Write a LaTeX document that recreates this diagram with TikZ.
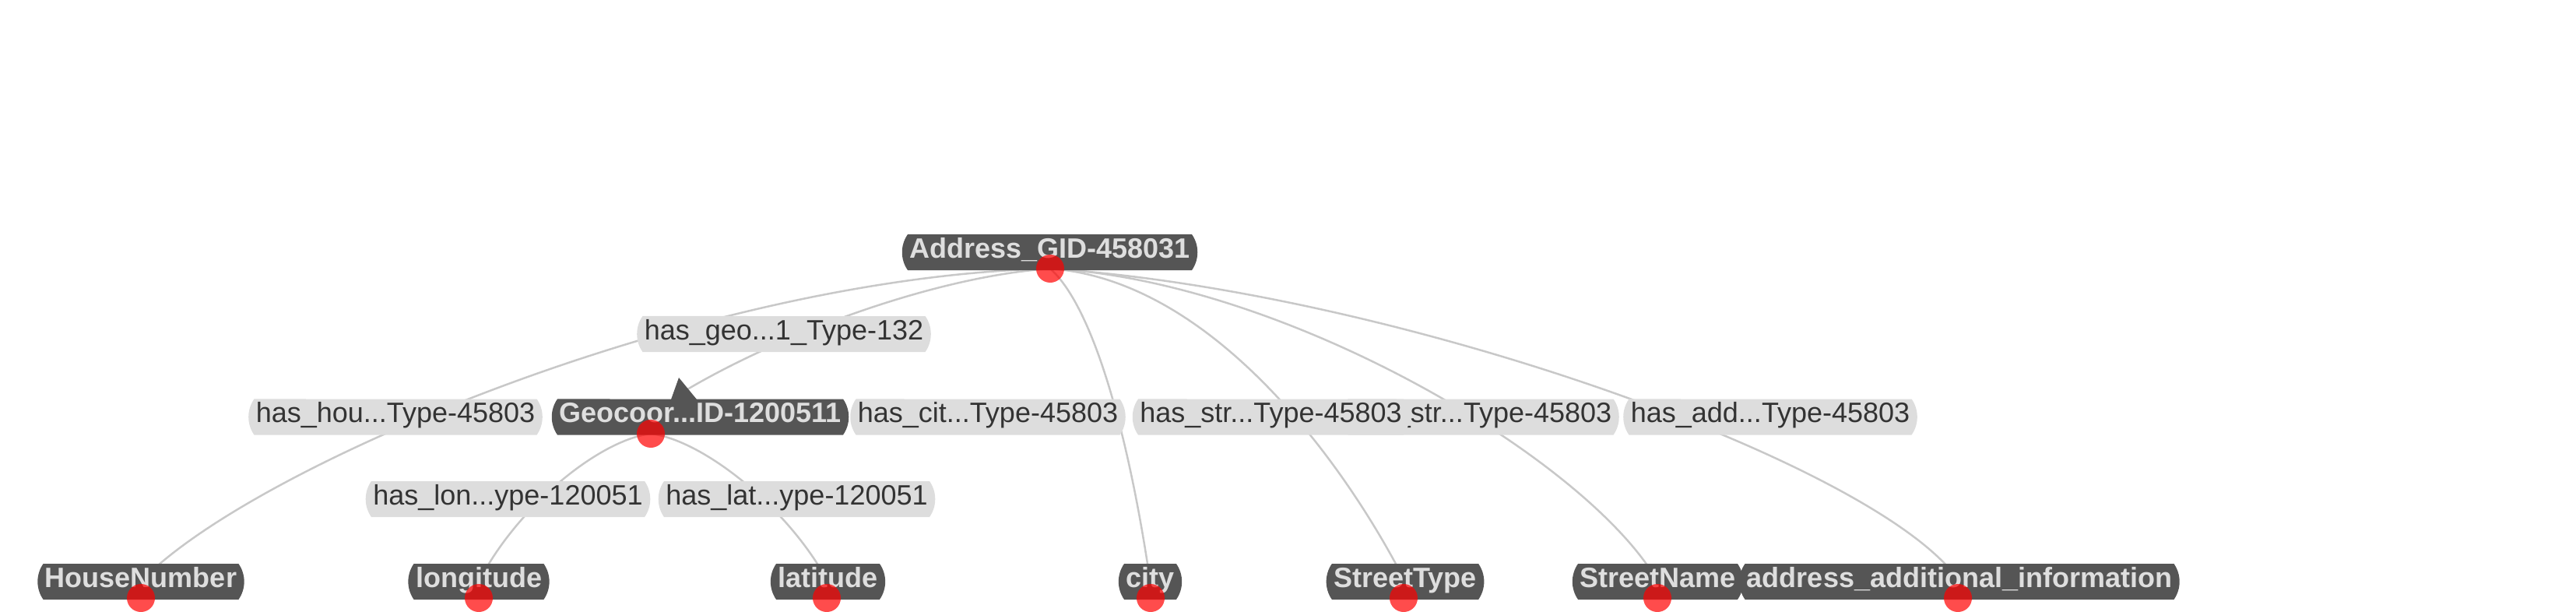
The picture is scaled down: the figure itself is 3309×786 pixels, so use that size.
\documentclass[tikz,border=0pt]{standalone}
\usepackage{fontspec}
\setmainfont{Liberation Sans}
\usetikzlibrary{shapes.misc}
\definecolor{nodebg}{HTML}{555555}
\definecolor{nodefg}{HTML}{DEDEDE}
\definecolor{lblbg}{HTML}{DDDDDD}
\definecolor{lblfg}{HTML}{333333}
\definecolor{edgec}{HTML}{C8C8C8}
\pgfdeclarelayer{background}
\pgfsetlayers{background,main}
\tikzset{
  boxbase/.style={rounded rectangle, rounded rectangle arc length=70,
    minimum height=23pt, inner xsep=4.5pt, inner ysep=0pt,
    text height=0.72em, text depth=0pt},
  ent/.style={boxbase, fill=nodebg, text=nodefg,
    font=\fontsize{18}{20}\selectfont\bfseries},
  rel/.style={boxbase, fill=lblbg, text=lblfg,
    font=\fontsize{18}{20}\selectfont},
  link/.style={draw=edgec, line width=1.25pt},
  reddot/.style={circle, fill=red, fill opacity=0.7, draw=none,
    minimum size=18pt, inner sep=0pt},
}
\begin{document}
\begin{tikzpicture}[x=0.5pt, y=-0.5pt]
\useasboundingbox (0,0) rectangle (3309,786);

% entity boxes
\node[ent] (addr) at (1348.5,324) {Address\_GID-458031};
\fill[nodebg] (872,485) -- (862,513) -- (895,513) -- cycle;
\node[ent] (geo)  at (899.5,535.5) {Geocoor...ID-1200511};
\node[ent] (hn)   at (181,747) {HouseNumber};
\node[ent] (lon)  at (615,747) {longitude};
\node[ent] (lat)  at (1063.5,747) {latitude};
\node[ent] (city) at (1477.5,747) {city};
\node[ent] (st)   at (1805,747) {StreetType};
\node[ent] (sn)   at (2129.5,747) {StreetName};
\node[ent] (aai)  at (2517,747) {address\_additional\_information};

% edge labels
\node[rel] (lgeo) at (1007,429) {has\_geo...1\_Type-132};
\node[rel] (lhou) at (508,535.5) {has\_hou...Type-45803};
\node[rel] (lcit) at (1269,535.5) {has\_cit...Type-45803};
\node[rel] (lstrb) at (1902,535.5) {has\_str...Type-45803};
\node[rel] (lstra) at (1632.5,535.5) {has\_str...Type-45803};
\node[rel] (ladd) at (2274,535.5) {has\_add...Type-45803};
\node[rel] (llon) at (652.5,641) {has\_lon...ype-120051};
\node[rel] (llat) at (1023.5,641) {has\_lat...ype-120051};

% red position dots
\node[reddot] (addrD) at (1349,345) {};
\node[reddot] (geoD)  at (836,557) {};
\node[reddot] (hnD)   at (181,768) {};
\node[reddot] (lonD)  at (615,768) {};
\node[reddot] (latD)  at (1062,768) {};
\node[reddot] (cityD) at (1478,768) {};
\node[reddot] (stD)   at (1803,768) {};
\node[reddot] (snD)   at (2129,768) {};
\node[reddot] (aaiD)  at (2515,768) {};

% connectors
\begin{pgfonlayer}{background}
\draw[link] (addrD.center) .. controls (900,355) and (320,600) .. (hn.center);
\draw[link] (addrD.center) .. controls (1200,355) and (1000,430) .. (878,503);
\draw[link] (addrD.center) .. controls (1405,395) and (1450,560) .. (city.center);
\draw[link] (addrD.center) .. controls (1560,360) and (1730,600) .. (st.center);
\draw[link] (addrD.center) .. controls (1650,360) and (2040,590) .. (sn.center);
\draw[link] (addrD.center) .. controls (1800,375) and (2420,600) .. (aai.center);
\draw[link] (geoD.center) .. controls (770,565) and (665,650) .. (lon.center);
\draw[link] (geoD.center) .. controls (902,565) and (1011,650) .. (lat.center);
\end{pgfonlayer}
\end{tikzpicture}
\end{document}
